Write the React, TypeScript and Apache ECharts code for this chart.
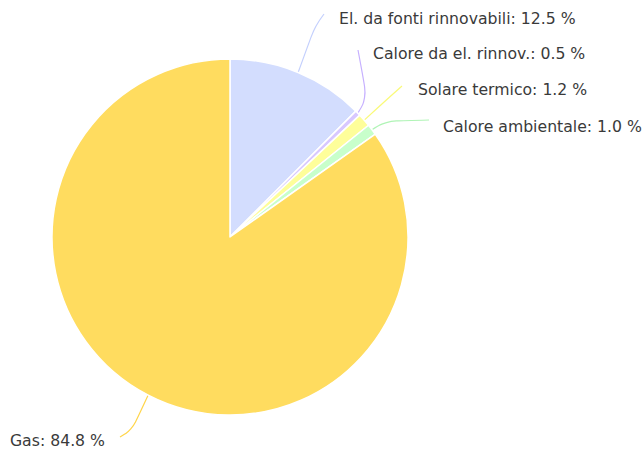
import React, { useEffect, useRef } from "react";
import * as echarts from "echarts";

const categories = [
  "El. da fonti rinnovabili",
  "Calore da el. rinnov.",
  "Solare termico",
  "Calore ambientale",
  "Gas",
];
const values = [12.5, 0.5, 1.2, 1.0, 84.8];
const colors = ["#d3ddfe", "#d8c8ff", "#fefe9a", "#c8ffcb", "#ffdc5f"];
const lineColors = ["#c4d0fd", "#c6b0ff", "#fafa78", "#b0f4b6", "#ffd54a"];

// label anchor positions (layout only)
const labelPos = [
  { x: 339, y: 18, align: "left", mid: [315, 26], end: [324, 14] },
  { x: 373, y: 53, align: "left", mid: [367, 98], end: [358, 50] },
  { x: 418, y: 89, align: "left", mid: [383, 103], end: [402, 86] },
  { x: 443, y: 126, align: "left", mid: [386, 121], end: [429, 120] },
  { x: 105, y: 440, align: "right", mid: [132, 430], end: [120, 437] },
];

export default function App() {
  const ref = useRef<HTMLDivElement>(null);
  useEffect(() => {
    document.body.style.margin = "0";
    const chart = echarts.init(ref.current!, null, { renderer: "svg" });
    chart.setOption({
      animation: false,
      backgroundColor: "#ffffff",
      series: [
        {
          type: "pie",
          center: [230, 237],
          radius: 178,
          startAngle: 90,
          clockwise: true,
          avoidLabelOverlap: false,
          itemStyle: { borderColor: "#ffffff", borderWidth: 1.5 },
          label: {
            show: true,
            fontFamily: "DejaVu Sans",
            fontSize: 15.7,
            color: "#3a3a3a",
            formatter: (p: any) => `${p.name}: ${Number(p.value).toFixed(1)} %`,
          },
          labelLine: { show: true, smooth: 0.4, lineStyle: { width: 1.2 } },
          labelLayout: (params: any) => {
            const lp = labelPos[params.dataIndex];
            const start = params.labelLinePoints ? params.labelLinePoints[0] : lp.mid;
            return {
              x: lp.x,
              y: lp.y,
              align: lp.align,
              verticalAlign: "middle",
              labelLinePoints: [start, lp.mid, lp.end],
            };
          },
          data: categories.map((name, i) => ({
            name,
            value: values[i],
            itemStyle: { color: colors[i] },
            labelLine: { lineStyle: { color: lineColors[i] } },
          })),
        },
      ],
    });
    return () => chart.dispose();
  }, []);
  return <div ref={ref} style={{ width: 643, height: 452 }} />;
}
